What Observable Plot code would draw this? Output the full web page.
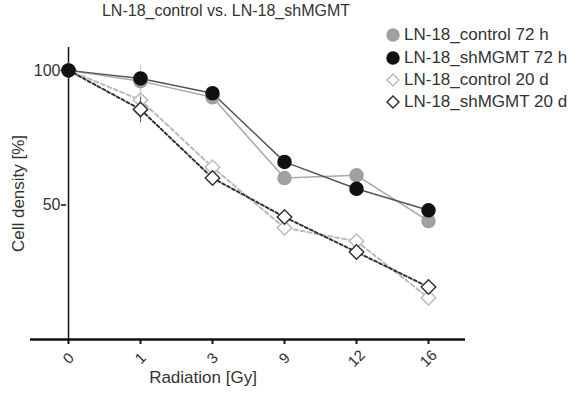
<!DOCTYPE html>
<html>
<head>
<meta charset="utf-8">
<script src="https://cdn.jsdelivr.net/npm/d3@7"></script>
<script src="https://cdn.jsdelivr.net/npm/@observablehq/plot@0.6"></script>
<style>
  html, body { margin: 0; padding: 0; background: #fff; }
  #wrap { position: relative; width: 577px; height: 398px; font-family: Arial, "Liberation Sans", sans-serif; color: #333; }
  #title { position: absolute; left: 0; width: 452px; top: 2px; text-align: center; font-size: 16px; }
  #legend { position: absolute; left: 385px; top: 24px; font-size: 17px; }
  .row { height: 22.4px; display: flex; align-items: center; white-space: nowrap; }
  .row svg { margin-right: 3px; }
  #chart { position: absolute; left: 0; top: 0; }
</style>
</head>
<body>
<div id="wrap">
  <div id="chart"></div>
  <div id="title">LN-18_control vs. LN-18_shMGMT</div>
  <div id="legend"></div>
</div>
<script>
const doses = ["0", "1", "3", "9", "12", "16"];
const seriesNames = ["LN-18_control 72 h", "LN-18_shMGMT 72 h", "LN-18_control 20 d", "LN-18_shMGMT 20 d"];
const ctrl72 = [100, 96, 90, 60, 61, 44];
const sh72 = [100, 97, 91.5, 66, 56, 48];
const ctrl20 = [100, 89, 64, 41.5, 36.5, 15.5];
const sh20 = [100, 85.5, 60, 45.5, 32.5, 19.5];
const ctrl72Err = [2, 6, 1.5, 1.5, 1.5, 1.5];
const sh72Err = [1, 2, 1, 1, 1, 1];
const ctrl20Err = [1, 4, 1.5, 1.5, 1.5, 1.5];
const sh20Err = [1, 5, 1, 1, 1, 1];
const yTicks = [50, 100];

const styles = {
  "LN-18_control 72 h": {line: "#a8a8a8", dash: null, sym: "circle", fill: "#a0a0a0", stroke: "#a0a0a0", err: "#c8c8c8"},
  "LN-18_shMGMT 72 h": {line: "#555", dash: null, sym: "circle", fill: "#111", stroke: "#111", err: "#888"},
  "LN-18_control 20 d": {line: "#bbb", dash: "4,3", sym: "diamond2", fill: "#fff", stroke: "#bbb", err: "#ccc"},
  "LN-18_shMGMT 20 d": {line: "#333", dash: "3,2.5", sym: "diamond2", fill: "#fff", stroke: "#333", err: "#666"}
};

const valueSets = [ctrl72, sh72, ctrl20, sh20];
const errSets = [ctrl72Err, sh72Err, ctrl20Err, sh20Err];
const rows = [];
seriesNames.forEach((s, i) => doses.forEach((d, j) => rows.push({series: s, dose: d, v: valueSets[i][j], e: errSets[i][j]})));

const order = ["LN-18_control 20 d", "LN-18_shMGMT 20 d", "LN-18_control 72 h", "LN-18_shMGMT 72 h"];
const marks = [];
for (const s of order) {
  const st = styles[s];
  const data = rows.filter(r => r.series === s);
  marks.push(Plot.line(data, {x: "dose", y: "v", stroke: st.line, strokeWidth: st.dash ? 2 : 1.5, strokeDasharray: st.dash}));
}
for (const s of order) {
  const st = styles[s];
  const data = rows.filter(r => r.series === s);
  marks.push(Plot.ruleX(data, {x: "dose", y1: d => d.v - d.e, y2: d => d.v + d.e, stroke: st.err, strokeWidth: 1.2}));
  marks.push(Plot.dot(data, {x: "dose", y: "v", symbol: st.sym, r: 6.5, fill: st.fill, stroke: st.stroke, strokeWidth: 1.5}));
}

const chart = Plot.plot({
  width: 577,
  height: 398,
  marginLeft: 30,
  marginRight: 112,
  marginTop: 47,
  marginBottom: 59,
  style: {fontFamily: "Arial, 'Liberation Sans', sans-serif", fontSize: "14px", color: "#333", background: "white"},
  x: {type: "point", domain: doses, padding: 0.5, label: null},
  y: {domain: [0, 108.5], label: null},
  marks: [
    Plot.ruleX([doses[0]], {stroke: "#111", strokeWidth: 1.5}),
    Plot.ruleY([0], {stroke: "#111", strokeWidth: 2.5}),
    Plot.axisX({tickSize: 5, text: null, stroke: "#111", strokeWidth: 2, label: null}),
    Plot.text(doses, {x: d => d, text: d => d, frameAnchor: "bottom", textAnchor: "middle", lineAnchor: "middle", rotate: -45, dy: 19, fontSize: 15, fill: "#333"}),
    Plot.axisY(yTicks, {anchor: "left", dx: 36, tickSize: 5, tickPadding: 1, fontSize: 16, stroke: "#111", strokeWidth: 1.5, fill: "#333", label: null}),
    Plot.text(["Radiation [Gy]"], {frameAnchor: "bottom", dx: -45, dy: 43, fontSize: 17, fill: "#333"}),
    Plot.text(["Cell density [%]"], {frameAnchor: "left", textAnchor: "middle", lineAnchor: "middle", dx: -12, dy: 0, rotate: -90, fontSize: 17, fill: "#333"}),
    ...marks
  ]
});
document.getElementById("chart").appendChild(chart);

const legend = document.getElementById("legend");
for (const s of seriesNames) {
  const st = styles[s];
  const row = document.createElement("div");
  row.className = "row";
  const shape = st.sym === "circle"
    ? `<circle cx="8" cy="8" r="6" fill="${st.fill}" stroke="${st.stroke}" stroke-width="1.5"/>`
    : `<path d="M8,2 L14,8 L8,14 L2,8 Z" fill="#fff" stroke="${st.stroke}" stroke-width="1.5"/>`;
  row.innerHTML = `<svg width="16" height="16">${shape}</svg><span>${s}</span>`;
  legend.appendChild(row);
}
</script>
</body>
</html>
